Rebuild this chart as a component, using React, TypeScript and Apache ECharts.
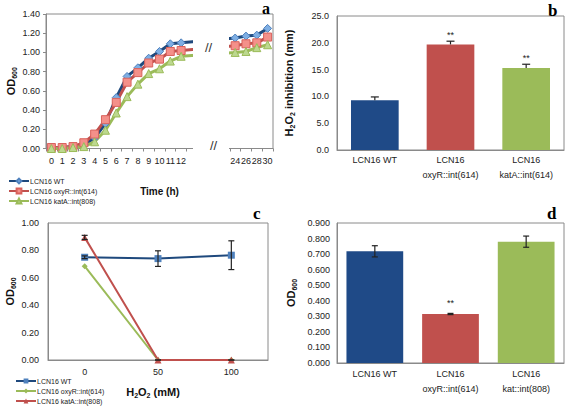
import React, { useEffect, useRef } from 'react';
import * as echarts from 'echarts';

const FONT = '"Liberation Sans", Arial, sans-serif';
const SERIF = '"Liberation Serif", "Times New Roman", serif';
const TXT = '#222';
const AX = '#8a8a8a';

// ---------- Panel a: growth curves ----------
const timeCats = ['0', '1', '2', '3', '4', '5', '6', '7', '8', '9', '10', '11', '12', '', '', '', '', '24', '26', '28', '30'];
const growthWT = [0.01, 0.01, 0.02, 0.04, 0.11, 0.26, 0.53, 0.75, 0.84, 0.94, 1.01, 1.09, 1.10, null, null, null, null, 1.15, 1.17, 1.18, 1.25];
const growthOxyR = [0.01, 0.01, 0.02, 0.06, 0.15, 0.30, 0.48, 0.69, 0.79, 0.89, 0.93, 1.01, 1.02, null, null, null, null, 1.07, 1.09, 1.10, 1.16];
const growthKatA = [0.00, 0.00, 0.01, 0.02, 0.07, 0.19, 0.37, 0.54, 0.67, 0.78, 0.83, 0.91, 0.96, null, null, null, null, 1.00, 1.01, 1.05, 1.08];

// ---------- Panel b: H2O2 inhibition ----------
const inhibCats = ['LCN16 WT', 'LCN16\noxyR::int(614)', 'LCN16\nkatA::int(614)'];
const inhibValues = [9.3, 19.7, 15.3];
const inhibErr = [0.6, 0.6, 0.7];
const inhibStars = ['', '**', '**'];

// ---------- Panel c: survival vs H2O2 ----------
const h2o2Cats = ['0', '50', '100'];
const survWT = [0.75, 0.74, 0.765];
const survWTErr = [0.01, 0.057, 0.105];
const survOxyR = [0.685, 0.0, 0.0];
const survKatA = [0.895, 0.0, 0.0];
const survKatAErr = [0.015, 0, 0];

// ---------- Panel d: OD600 ----------
const odCats = ['LCN16 WT', 'LCN16\noxyR::int(614)', 'LCN16\nkat::int(808)'];
const odValues = [0.718, 0.315, 0.78];
const odErr = [0.036, 0.004, 0.036];
const odStars = ['', '**', ''];

const barColors = ['#1f4a87', '#c0504d', '#9bbb59'];
const names = ['LCN16 WT', 'LCN16 oxyR::int(614)', 'LCN16 katA::int(808)'];

const nameRich = (size: number) => ({
  t: { fontSize: size, fontWeight: 'bold', fontFamily: FONT, color: '#111', lineHeight: size + 4, verticalAlign: 'middle' },
  s: { fontSize: Math.round(size * 0.62), fontWeight: 'bold', fontFamily: FONT, color: '#111', lineHeight: Math.round(size * 0.62), verticalAlign: 'bottom' },
});

function errorSeries(xi: number, values: number[], errs: number[], upperOnly: boolean, cap: number, color = '#222') {
  return {
    type: 'custom',
    xAxisIndex: xi,
    yAxisIndex: xi,
    z: 5,
    silent: true,
    data: values.map((v, i) => [i, upperOnly ? v : v - errs[i], v + errs[i]]),
    renderItem: (params: any, api: any) => {
      const i = api.value(0);
      const lo = api.coord([i, api.value(1)]);
      const hi = api.coord([i, api.value(2)]);
      const st = { stroke: color, lineWidth: 1.2 };
      const children: any[] = [
        { type: 'line', shape: { x1: hi[0], y1: lo[1], x2: hi[0], y2: hi[1] }, style: st },
        { type: 'line', shape: { x1: hi[0] - cap, y1: hi[1], x2: hi[0] + cap, y2: hi[1] }, style: st },
      ];
      if (!upperOnly) children.push({ type: 'line', shape: { x1: lo[0] - cap, y1: lo[1], x2: lo[0] + cap, y2: lo[1] }, style: st });
      return { type: 'group', children };
    },
  };
}

function starSeries(xi: number, values: number[], errs: number[], stars: string[], lift: number) {
  const idx = stars.map((s, i) => (s ? i : -1)).filter((i) => i >= 0);
  return {
    type: 'custom',
    xAxisIndex: xi,
    yAxisIndex: xi,
    z: 6,
    silent: true,
    data: idx.map((i) => [i, values[i] + errs[i]]),
    renderItem: (params: any, api: any) => {
      const p = api.coord([api.value(0), api.value(1)]);
      return {
        type: 'text',
        x: p[0],
        y: p[1] - lift,
        style: { text: stars[idx[params.dataIndex]], align: 'center', verticalAlign: 'bottom', fontSize: 9, fontFamily: FONT, fill: TXT },
      };
    },
  };
}

const labelStyle = { fontSize: 9, fontFamily: FONT, color: TXT };
const legendText = { fontSize: 7, lineHeight: 8, fontFamily: FONT, color: TXT, padding: [0, 0, 0, -4] };

export default function App() {
  const ref = useRef<HTMLDivElement>(null);
  useEffect(() => {
    if (!ref.current) return;
    const chart = echarts.init(ref.current, undefined, { renderer: 'svg' });
    const grids = [
      { left: 46, top: 14, width: 227, height: 134.5 },
      { left: 337, top: 16, width: 227, height: 134 },
      { left: 48, top: 223, width: 220, height: 137 },
      { left: 337, top: 223, width: 227, height: 140 },
    ].map((g) => ({ ...g, show: true, borderColor: AX, borderWidth: 1, containLabel: false }));

    const option: any = {
      animation: false,
      backgroundColor: '#fff',
      grid: grids,
      xAxis: [
        {
          gridIndex: 0, type: 'category', data: timeCats, boundaryGap: true,
          axisLine: { lineStyle: { color: AX } },
          axisTick: { show: true, interval: 0, length: 3, lineStyle: { color: AX } },
          axisLabel: { ...labelStyle, interval: 0, margin: 8 },
          name: 'Time (h)', nameLocation: 'middle', nameGap: 38,
          nameTextStyle: { fontSize: 10, fontWeight: 'bold', fontFamily: FONT, color: '#111' },
        },
        {
          gridIndex: 1, type: 'category', data: inhibCats,
          axisLine: { lineStyle: { color: AX } }, axisTick: { show: false },
          axisLabel: { ...labelStyle, interval: 0, margin: 2, lineHeight: 15 },
        },
        {
          gridIndex: 2, type: 'category', data: h2o2Cats,
          axisLine: { lineStyle: { color: AX } }, axisTick: { show: false },
          axisLabel: { ...labelStyle, margin: 7 },
          name: '{t|H}{s|2}{t|O}{s|2}{t| (mM)}', nameLocation: 'middle', nameGap: 24,
          nameTextStyle: { rich: nameRich(11), padding: [0, 10, 0, 0] },
        },
        {
          gridIndex: 3, type: 'category', data: odCats,
          axisLine: { lineStyle: { color: AX } }, axisTick: { show: false },
          axisLabel: { ...labelStyle, interval: 0, margin: 3, lineHeight: 15 },
        },
      ],
      yAxis: [
        {
          gridIndex: 0, type: 'value', min: 0, max: 1.4, interval: 0.2,
          splitLine: { show: false },
          axisLine: { show: true, lineStyle: { color: AX } },
          axisTick: { show: true, length: 3, lineStyle: { color: AX } },
          axisLabel: { ...labelStyle, margin: 6, formatter: (v: number) => v.toFixed(2) },
          name: '{t|OD}{s|600}', nameLocation: 'middle', nameGap: 28, nameTextStyle: { rich: nameRich(11) },
        },
        {
          gridIndex: 1, type: 'value', min: 0, max: 25, interval: 5,
          splitLine: { show: false },
          axisLine: { show: true, lineStyle: { color: AX } }, axisTick: { show: false },
          axisLabel: { ...labelStyle, margin: 8, formatter: (v: number) => v.toFixed(1) },
          name: '{t|H}{s|2}{t|O}{s|2}{t| inhibition (mm)}', nameLocation: 'middle', nameGap: 41, nameTextStyle: { rich: nameRich(11) },
        },
        {
          gridIndex: 2, type: 'value', min: 0, max: 1, interval: 0.2,
          splitLine: { show: false },
          axisLine: { show: true, lineStyle: { color: AX } }, axisTick: { show: false },
          axisLabel: { ...labelStyle, margin: 9, formatter: (v: number) => v.toFixed(2) },
          name: '{t|OD}{s|600}', nameLocation: 'middle', nameGap: 31, nameTextStyle: { rich: nameRich(11) },
        },
        {
          gridIndex: 3, type: 'value', min: 0, max: 0.9, interval: 0.1,
          splitLine: { show: false },
          axisLine: { show: true, lineStyle: { color: AX } }, axisTick: { show: false },
          axisLabel: { ...labelStyle, margin: 7, formatter: (v: number) => v.toFixed(3) },
          name: '{t|OD}{s|600}', nameLocation: 'middle', nameGap: 39, nameTextStyle: { rich: nameRich(11) },
        },
      ],
      legend: [
        {
          left: 8, top: 177, orient: 'vertical', itemWidth: 20, itemHeight: 6, itemGap: 2, padding: 0,
          data: names.map((n) => 'a:' + n), formatter: (n: string) => n.slice(2),
          textStyle: legendText,
        },
        {
          left: 15, top: 377, orient: 'vertical', itemWidth: 20, itemHeight: 6, itemGap: 2, padding: 0,
          data: names.map((n) => 'c:' + n), formatter: (n: string) => n.slice(2),
          textStyle: legendText,
        },
      ],
      series: [
        {
          name: 'a:' + names[0], type: 'line', xAxisIndex: 0, yAxisIndex: 0, data: growthWT, connectNulls: true,
          symbol: 'diamond', symbolSize: 8, lineStyle: { color: '#1f497d', width: 3 },
          itemStyle: { color: '#7eaee3', borderColor: '#4f81bd', borderWidth: 1 },
        },
        {
          name: 'a:' + names[1], type: 'line', xAxisIndex: 0, yAxisIndex: 0, data: growthOxyR, connectNulls: true,
          symbol: 'rect', symbolSize: 8, lineStyle: { color: '#c0504d', width: 3 },
          itemStyle: { color: '#f4908a', borderColor: '#d9625c', borderWidth: 1 },
        },
        {
          name: 'a:' + names[2], type: 'line', xAxisIndex: 0, yAxisIndex: 0, data: growthKatA, connectNulls: true,
          symbol: 'triangle', symbolSize: 8, lineStyle: { color: '#9bbb59', width: 3 },
          itemStyle: { color: '#bcd88e', borderColor: '#9bbb59', borderWidth: 1 },
        },
        {
          type: 'bar', xAxisIndex: 1, yAxisIndex: 1, barCategoryGap: '37%',
          data: inhibValues.map((v, i) => ({ value: v, itemStyle: { color: barColors[i] } })),
        },
        errorSeries(1, inhibValues, inhibErr, true, 4),
        starSeries(1, inhibValues, inhibErr, inhibStars, 2),
        {
          name: 'c:' + names[0], type: 'line', xAxisIndex: 2, yAxisIndex: 2, data: survWT,
          symbol: 'rect', symbolSize: 7, lineStyle: { color: '#1f497d', width: 2 },
          itemStyle: { color: '#4f81bd' },
        },
        {
          name: 'c:' + names[1], type: 'line', xAxisIndex: 2, yAxisIndex: 2, data: survOxyR,
          symbol: 'diamond', symbolSize: 6, lineStyle: { color: '#9bbb59', width: 2 },
          itemStyle: { color: '#9bbb59' },
        },
        {
          name: 'c:' + names[2], type: 'line', xAxisIndex: 2, yAxisIndex: 2, data: survKatA,
          symbol: 'triangle', symbolSize: 7, lineStyle: { color: '#c0504d', width: 2 },
          itemStyle: { color: '#c0504d' },
        },
        errorSeries(2, survWT, survWTErr, false, 3),
        errorSeries(2, survKatA, survKatAErr, false, 3),
        {
          type: 'bar', xAxisIndex: 3, yAxisIndex: 3, barCategoryGap: '25%',
          data: odValues.map((v, i) => ({ value: v, itemStyle: { color: barColors[i] } })),
        },
        errorSeries(3, odValues, odErr, false, 3),
        starSeries(3, odValues, odErr, odStars, 6),
      ],
      graphic: [
        { type: 'rect', z: 100, shape: { x: 193, y: 15, width: 36, height: 140 }, style: { fill: '#fff' } },
        { type: 'text', z: 101, x: 205, y: 41, style: { text: '//', fontSize: 13, fontFamily: FONT, fill: '#333' } },
        { type: 'text', z: 101, x: 210, y: 139, style: { text: '//', fontSize: 13, fontFamily: FONT, fill: '#333' } },
        { type: 'text', z: 101, x: 262, y: 0, style: { text: 'a', fontSize: 16, fontWeight: 'bold', fontFamily: SERIF, fill: '#000', verticalAlign: 'top' } },
        { type: 'text', z: 101, x: 548, y: 2, style: { text: 'b', fontSize: 17, fontWeight: 'bold', fontFamily: SERIF, fill: '#000', verticalAlign: 'top' } },
        { type: 'text', z: 101, x: 253, y: 205, style: { text: 'c', fontSize: 17, fontWeight: 'bold', fontFamily: SERIF, fill: '#000', verticalAlign: 'top' } },
        { type: 'text', z: 101, x: 547, y: 205, style: { text: 'd', fontSize: 17, fontWeight: 'bold', fontFamily: SERIF, fill: '#000', verticalAlign: 'top' } },
      ],
    };
    chart.setOption(option);
    return () => chart.dispose();
  }, []);
  return <div ref={ref} style={{ width: 567, height: 408, position: 'fixed', left: 0, top: 0 }} />;
}
